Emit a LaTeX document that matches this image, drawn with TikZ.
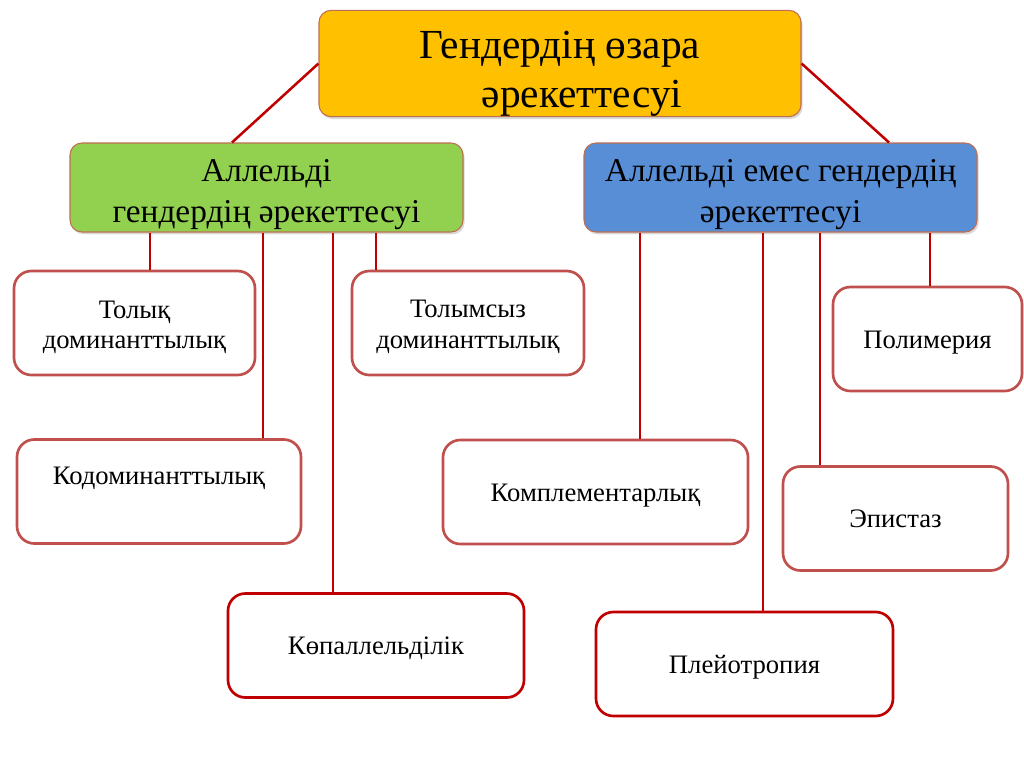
\documentclass[tikz,border=0pt]{standalone}
\usepackage{fontspec}
\setmainfont{Liberation Serif}
\usetikzlibrary{shadows}
\definecolor{linkred}{RGB}{192,0,0}
\definecolor{leafred}{RGB}{192,80,77}
\definecolor{topfill}{RGB}{255,192,0}
\definecolor{grfill}{RGB}{146,208,80}
\definecolor{blfill}{RGB}{88,142,213}
\definecolor{hedge}{RGB}{190,110,80}

\begin{document}
\begin{tikzpicture}[x=0.75pt,y=-0.75pt,
 head/.style={draw=hedge,line width=0.8pt,rounded corners=9pt,align=center,
  inner sep=0pt,drop shadow={opacity=0.3,shadow xshift=1.2pt,shadow yshift=-1.8pt}},
 leaf/.style={draw=leafred,line width=2pt,rounded corners=13pt,fill=white,
  align=center,inner sep=0pt,font=\fontsize{20}{23}\selectfont,
  minimum height=78pt},
 oneline/.style={text height=15pt,text depth=1.5pt},
 link/.style={draw=linkred,line width=1.9pt}]
\useasboundingbox (0,0) rectangle (1024,767);
% top level
\node[head,fill=topfill,minimum width=361.5pt,minimum height=77.25pt,
 font=\fontsize{31}{37}\selectfont] (top) at (560,63.5)
 {\rule{0pt}{36pt}Гендердің өзара\\\hspace*{33pt}әрекеттесуі};
\node[head,fill=grfill,minimum width=294.75pt,minimum height=66.75pt,
 font=\fontsize{25}{31}\selectfont] (allel) at (266.5,187.5)
 {\rule{0pt}{27pt}Аллельді\\гендердің әрекеттесуі};
\node[head,fill=blfill,minimum width=294.75pt,minimum height=66.75pt,
 font=\fontsize{25}{31}\selectfont] (nonallel) at (780.5,187.5)
 {\rule{0pt}{27pt}Аллельді емес гендердің\\әрекеттесуі};
% allelic
\node[leaf,minimum width=180.75pt] (tolyq) at (134.5,323)
 {\rule{0pt}{19.5pt}Толық\\доминанттылық};
\node[leaf,minimum width=213pt,text height=4pt,text depth=14pt] (kodom)
 at (159,491.5) {Кодоминанттылық};
\node[leaf,oneline,draw=linkred,minimum width=222pt] (kopall) at (376,645.5) {Көпаллельділік};
\node[leaf,minimum width=174pt] (tolyms) at (468,323)
 {\rule{0pt}{18.5pt}Толымсыз\\доминанттылық};
% non-allelic
\node[leaf,oneline,minimum width=228.75pt] (kompl) at (595.5,492) {Комплементарлық};
\node[leaf,oneline,draw=linkred,minimum width=222.75pt] (pleio) at (744.5,664) {Плейотропия};
\node[leaf,oneline,minimum width=168.75pt] (epist) at (895.5,518.5) {Эпистаз};
\node[leaf,oneline,minimum width=141.75pt] (polim) at (927.5,339) {Полимерия};
% links
\draw[link] (top.west) -- (232,0 |- allel.north);
\draw[link] (top.east) -- (889,0 |- nonallel.north);
\draw[link] (allel.south -| 150,0) -- (tolyq.north -| 150,0);
\draw[link] (allel.south -| 263,0) -- (kodom.north -| 263,0);
\draw[link] (allel.south -| 333,0) -- (kopall.north -| 333,0);
\draw[link] (allel.south -| 376,0) -- (tolyms.north -| 376,0);
\draw[link] (nonallel.south -| 640,0) -- (kompl.north -| 640,0);
\draw[link] (nonallel.south -| 763,0) -- (pleio.north -| 763,0);
\draw[link] (nonallel.south -| 820,0) -- (epist.north -| 820,0);
\draw[link] (nonallel.south -| 930,0) -- (polim.north -| 930,0);
\end{tikzpicture}
\end{document}
